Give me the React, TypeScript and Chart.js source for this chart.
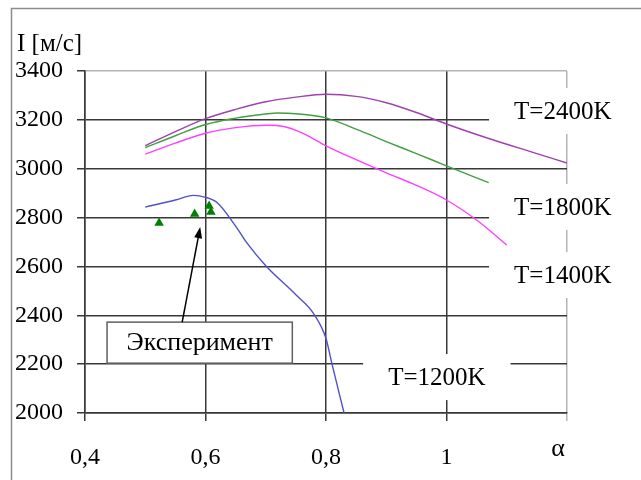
import { useEffect, useRef } from "react";
import { Chart, registerables } from "chart.js";

Chart.register(...registerables);

// α values and specific impulse I [м/с] for each temperature
const alpha2400 = [0.5, 0.55, 0.6, 0.65, 0.7, 0.75, 0.8, 0.85, 0.9, 0.95, 1.0, 1.05, 1.1, 1.15, 1.2];
const impulse2400 = [3094, 3152, 3205, 3243, 3274, 3293, 3305, 3296, 3270, 3230, 3183, 3140, 3100, 3062, 3023];

const alpha1800 = [0.5, 0.55, 0.6, 0.65, 0.7, 0.72, 0.75, 0.8, 0.85, 0.9, 0.95, 1.0, 1.07];
const impulse1800 = [3086, 3135, 3181, 3207, 3224, 3228, 3225, 3208, 3162, 3111, 3062, 3012, 2943];

const alpha1400 = [0.5, 0.55, 0.6, 0.65, 0.7, 0.73, 0.76, 0.8, 0.85, 0.9, 0.95, 1.0, 1.05, 1.1];
const impulse1400 = [3060, 3105, 3145, 3168, 3178, 3173, 3147, 3094, 3037, 2983, 2932, 2872, 2790, 2688];

const alpha1200 = [0.5, 0.55, 0.58, 0.6, 0.62, 0.65, 0.67, 0.7, 0.75, 0.78, 0.8, 0.81, 0.83];
const impulse1200 = [2843, 2872, 2891, 2883, 2860, 2765, 2692, 2603, 2484, 2405, 2305, 2200, 2000];

const alphaExp = [0.523, 0.582, 0.606, 0.609];
const impulseExp = [2778, 2815, 2847, 2823];

const xTicks = [0.4, 0.6, 0.8, 1.0, 1.2];
const yTicks = [2000, 2200, 2400, 2600, 2800, 3000, 3200, 3400];

const curveLabels = ["T=2400K", "T=1800K", "T=1400K", "T=1200K"];
const curveLabelAlpha = [1.193, 1.193, 1.193, 0.984];
const curveLabelImpulse = [3236, 2843, 2565, 2147];

const expText = "Эксперимент";
const yTitle = "I [м/с]";
const xTitle = "α";

const SERIF = "'Liberation Serif', 'Times New Roman', serif";

function pts(xs: number[], ys: number[]) {
  return xs.map((x, i) => ({ x, y: ys[i] }));
}

function fmtX(v: number) {
  const r = Math.round(v * 10) / 10;
  if (Math.abs(r - 1.2) < 1e-6) return "";
  return String(r).replace(".", ",");
}

export default function App() {
  const ref = useRef<HTMLCanvasElement>(null);

  useEffect(() => {
    const canvas = ref.current!;
    const overlay = {
      id: "overlay",
      beforeDraw(chart: any) {
        const ctx = chart.ctx;
        ctx.save();
        ctx.fillStyle = "#ffffff";
        ctx.fillRect(0, 0, chart.width, chart.height);
        ctx.strokeStyle = "#8c8c8c";
        ctx.lineWidth = 1.5;
        ctx.beginPath();
        ctx.moveTo(11.5, chart.height);
        ctx.lineTo(11.5, 8.5);
        ctx.lineTo(chart.width, 8.5);
        ctx.stroke();
        ctx.restore();
      },
      beforeDatasetsDraw(chart: any) {
        const ctx = chart.ctx;
        const xs = chart.scales.x;
        const ys = chart.scales.y;
        ctx.save();
        ctx.font = `25px ${SERIF}`;
        ctx.textAlign = "center";
        ctx.textBaseline = "middle";
        curveLabels.forEach((t, i) => {
          const px = xs.getPixelForValue(curveLabelAlpha[i]);
          const py = ys.getPixelForValue(curveLabelImpulse[i]);
          const w = ctx.measureText(t).width;
          ctx.fillStyle = "#ffffff";
          ctx.fillRect(px - w / 2 - 25, py - 23, w + 50, 46);
          ctx.fillStyle = "#000000";
          ctx.fillText(t, px, py + 1);
        });
        ctx.restore();
      },
      afterDatasetsDraw(chart: any) {
        const ctx = chart.ctx;
        const xs = chart.scales.x;
        const ys = chart.scales.y;
        ctx.save();
        // Experiment box
        const bx1 = xs.getPixelForValue(0.4366);
        const bx2 = xs.getPixelForValue(0.7441);
        const by1 = ys.getPixelForValue(2372);
        const by2 = ys.getPixelForValue(2204);
        ctx.fillStyle = "#ffffff";
        ctx.fillRect(bx1, by1, bx2 - bx1, by2 - by1);
        ctx.strokeStyle = "#606060";
        ctx.lineWidth = 1.5;
        ctx.strokeRect(bx1, by1, bx2 - bx1, by2 - by1);
        ctx.fillStyle = "#000000";
        ctx.font = `26px ${SERIF}`;
        ctx.textAlign = "center";
        ctx.textBaseline = "middle";
        ctx.fillText(expText, (bx1 + bx2) / 2, (by1 + by2) / 2 + 1);
        // Arrow
        const tx = xs.getPixelForValue(0.5613);
        const ty = by1;
        const hx = xs.getPixelForValue(0.5912);
        const hy = ys.getPixelForValue(2761);
        const ang = Math.atan2(hy - ty, hx - tx);
        const L = 11, W = 4;
        const bxp = hx - L * Math.cos(ang);
        const byp = hy - L * Math.sin(ang);
        ctx.strokeStyle = "#000000";
        ctx.lineWidth = 1.5;
        ctx.beginPath();
        ctx.moveTo(tx, ty);
        ctx.lineTo(bxp, byp);
        ctx.stroke();
        ctx.beginPath();
        ctx.moveTo(hx, hy);
        ctx.lineTo(bxp + W * Math.sin(ang), byp - W * Math.cos(ang));
        ctx.lineTo(bxp - W * Math.sin(ang), byp + W * Math.cos(ang));
        ctx.closePath();
        ctx.fill();
        // Axis titles
        ctx.font = `25px ${SERIF}`;
        ctx.textAlign = "left";
        ctx.fillText(yTitle, 17, 44);
        ctx.textAlign = "center";
        ctx.font = `26px ${SERIF}`;
        ctx.fillText(xTitle, 558, 449);
        ctx.restore();
      },
    };

    const lineDs = (label: string, xs: number[], ys: number[], color: string) => ({
      type: "line" as const,
      label,
      data: pts(xs, ys),
      borderColor: color,
      backgroundColor: color,
      borderWidth: 1.4,
      pointRadius: 0,
      fill: false,
      cubicInterpolationMode: "monotone" as const,
    });

    const chart = new Chart(canvas, {
      type: "line",
      data: {
        datasets: [
          lineDs("T=2400K", alpha2400, impulse2400, "#a040b0"),
          lineDs("T=1800K", alpha1800, impulse1800, "#40a040"),
          lineDs("T=1400K", alpha1400, impulse1400, "#ff40ff"),
          lineDs("T=1200K", alpha1200, impulse1200, "#5050cc"),
          {
            type: "scatter" as const,
            label: "Эксперимент",
            data: pts(alphaExp, impulseExp),
            pointStyle: "triangle",
            pointRadius: 5.5,
            borderWidth: 0,
            backgroundColor: "#008000",
            borderColor: "#008000",
            showLine: false,
          } as any,
        ],
      },
      options: {
        responsive: false,
        maintainAspectRatio: false,
        animation: false,
        layout: { padding: { top: 71, right: 74, left: 0, bottom: 0 } },
        plugins: { legend: { display: false }, tooltip: { enabled: false } },
        scales: {
          x: {
            type: "linear",
            min: 0.4,
            max: 1.2,
            afterBuildTicks: (s: any) => {
              s.ticks = xTicks.map((v) => ({ value: v }));
            },
            afterFit: (s: any) => {
              s.height = 67;
            },
            ticks: {
              callback: (v: any) => fmtX(Number(v)),
              font: { family: SERIF, size: 24 },
              color: "#000",
              padding: 22,
              maxRotation: 0,
              autoSkip: false,
            },
            grid: {
              color: (c: any) => (Math.abs(c.tick?.value - 1.2) < 1e-6 ? "#b4b4b4" : "#383838"),
              lineWidth: 1.5,
              tickLength: 8,
              drawTicks: true,
            },
            border: { color: "#383838", width: 1.5 },
          },
          y: {
            type: "linear",
            min: 2000,
            max: 3400,
            afterBuildTicks: (s: any) => {
              s.ticks = yTicks.map((v) => ({ value: v }));
            },
            afterFit: (s: any) => {
              s.width = 85;
            },
            ticks: {
              callback: (v: any) => String(v),
              font: { family: SERIF, size: 24 },
              color: "#000",
              padding: 14,
              autoSkip: false,
            },
            grid: {
              color: (c: any) => (c.tick?.value === 3400 ? "#b4b4b4" : "#383838"),
              tickColor: "#383838",
              lineWidth: 1.5,
              tickLength: 8,
              drawTicks: true,
            },
            border: { color: "#383838", width: 1.5 },
          },
        },
      },
      plugins: [overlay],
    });
    return () => chart.destroy();
  }, []);

  return (
    <div style={{ position: "absolute", left: 0, top: 0, width: 641, height: 480, background: "#fff" }}>
      <canvas ref={ref} width={641} height={480} style={{ display: "block", width: 641, height: 480 }} />
    </div>
  );
}
